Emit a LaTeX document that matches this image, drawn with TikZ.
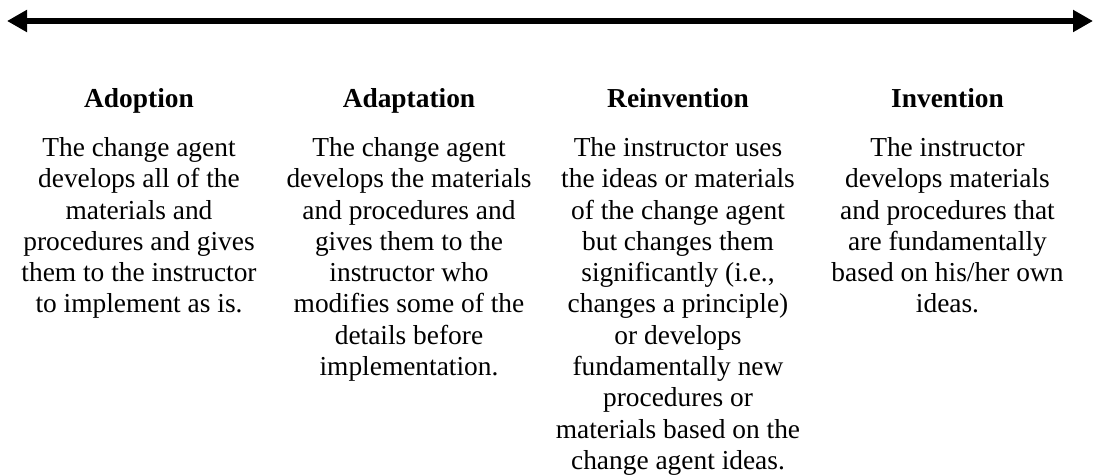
\documentclass[tikz,border=0pt]{standalone}
\usepackage{fontspec}
\setmainfont{Liberation Serif}
\usetikzlibrary{arrows.meta}
\begin{document}
\begin{tikzpicture}[x=0.5pt,y=-0.5pt,
  head/.style={font=\fontsize{13.7}{15.6}\selectfont\bfseries, anchor=base, inner sep=0pt},
  body/.style={font=\fontsize{13.7}{15.65}\selectfont, align=center, anchor=north, inner sep=0pt},
  axis/.style={line width=2.6pt, {Triangle[length=10pt,width=10.5pt]}-{Triangle[length=10pt,width=10.5pt]}}]
\useasboundingbox (0,0) rectangle (1093,475);
\coordinate (L) at (7,21);
\coordinate (R) at (1093,21);
\draw[axis] (L) -- (R);
\node[head] (h1) at (139,108) {Adoption};
\node[head] (h2) at (409,108) {Adaptation};
\node[head] (h3) at (678,108) {Reinvention};
\node[head] (h4) at (947.5,108) {Invention};
\node[body] (b1) at (139,137) {The change agent\\develops all of the\\materials and\\procedures and gives\\them to the instructor\\to implement as is.};
\node[body] (b2) at (409,137) {The change agent\\develops the materials\\and procedures and\\gives them to the\\instructor who\\modifies some of the\\details before\\implementation.};
\node[body] (b3) at (678,137) {The instructor uses\\the ideas or materials\\of the change agent\\but changes them\\significantly (i.e.,\\changes a principle)\\or develops\\fundamentally new\\procedures or\\materials based on the\\change agent ideas.};
\node[body] (b4) at (947.5,137) {The instructor\\develops materials\\and procedures that\\are fundamentally\\based on his/her own\\ideas.};
\end{tikzpicture}
\end{document}
